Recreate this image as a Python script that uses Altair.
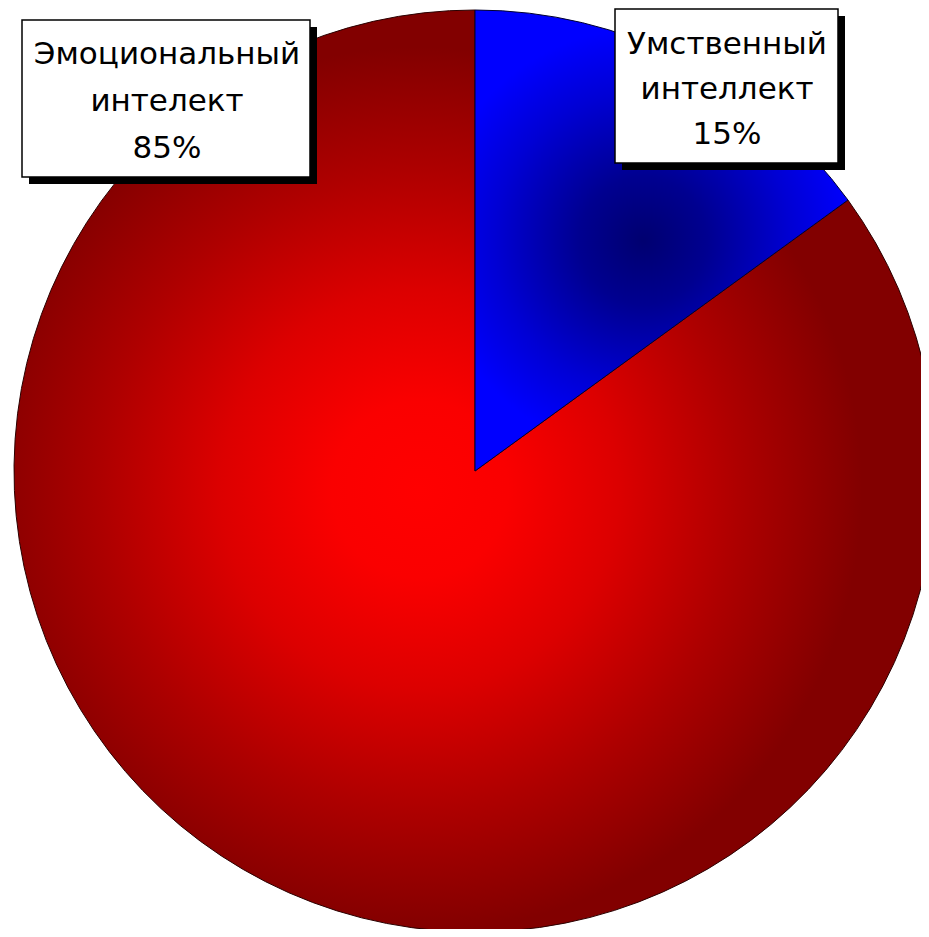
import math
import altair as alt
import pandas as pd

# ---- data ----
categories = ["Умственный интеллект", "Эмоциональный интелект"]
label_lines = ["Умственный\nинтеллект", "Эмоциональный\nинтелект"]
values = [15, 85]

df = pd.DataFrame({"category": categories, "label": label_lines, "value": values})

W, H = 913, 921
CX, CY, R = 467, 463, 461

base = (
    alt.Chart(df)
    .transform_joinaggregate(total="sum(value)")
    .transform_stack(stack="value", groupby=[], as_=["s0", "s1"],
                     sort=[alt.SortField("value", order="ascending")])
    .transform_calculate(t0="datum.s0 / datum.total", t1="datum.s1 / datum.total",
                         txt="datum.label + '\\n' + datum.value + '%'")
)

red_fill = {
    "gradient": "radial",
    "x1": 0.44, "y1": 0.52, "r1": 0,
    "x2": 0.44, "y2": 0.52, "r2": 0.48,
    "stops": [
        {"offset": 0.0, "color": "#ff0000"},
        {"offset": 0.2, "color": "#fa0000"},
        {"offset": 0.45, "color": "#dc0000"},
        {"offset": 0.72, "color": "#ae0000"},
        {"offset": 1.0, "color": "#820000"},
    ],
}
blue_fill = {
    "gradient": "radial",
    "x1": 0.46, "y1": 0.5, "r1": 0,
    "x2": 0.46, "y2": 0.5, "r2": 0.46,
    "stops": [
        {"offset": 0.0, "color": "#000070"},
        {"offset": 0.3, "color": "#000090"},
        {"offset": 0.7, "color": "#0000d4"},
        {"offset": 1.0, "color": "#0000ff"},
    ],
}

theta_scale = alt.Scale(domain=[0, 1], range=[0, 2 * math.pi])


def arc_layer(cat, fill, stroke):
    return (
        base.transform_filter(alt.datum.category == cat)
        .mark_arc(fill=fill, stroke=stroke, strokeWidth=1, radius=R)
        .encode(
            theta=alt.Theta("t0:Q", scale=theta_scale),
            theta2="t1:Q",
            x=alt.value(CX),
            y=alt.value(CY),
        )
    )


def label_layer(cat, box, tx, ty, lh):
    x0, y0, x1, y1 = box
    sub = base.transform_filter(alt.datum.category == cat)
    shadow = sub.mark_rect(color="black").encode(
        x=alt.value(x0 + 7), x2=alt.value(x1 + 7),
        y=alt.value(y0 + 7), y2=alt.value(y1 + 7))
    panel = sub.mark_rect(fill="white", stroke="black", strokeWidth=1.5).encode(
        x=alt.value(x0), x2=alt.value(x1), y=alt.value(y0), y2=alt.value(y1))
    text = sub.mark_text(
        lineBreak="\n", lineHeight=lh, font="DejaVu Sans", fontSize=31,
        align="center", baseline="middle", color="black",
    ).encode(text="txt:N", x=alt.value(tx), y=alt.value(ty))
    return [shadow, panel, text]


layers = [
    arc_layer(categories[1], red_fill, "#2a0000"),
    arc_layer(categories[0], blue_fill, "#000030"),
]
layers += label_layer(categories[1], (14, 12, 302, 169), 159, 47, 47)
layers += label_layer(categories[0], (607, 1, 830, 155), 719, 37, 45)

chart = (
    alt.layer(*layers)
    .properties(width=W, height=H, padding=0,
                autosize=alt.AutoSizeParams(type="none"), background="white")
    .configure_view(strokeWidth=0)
)

chart.save("out.html", embed_options={"renderer": "svg", "actions": False})
